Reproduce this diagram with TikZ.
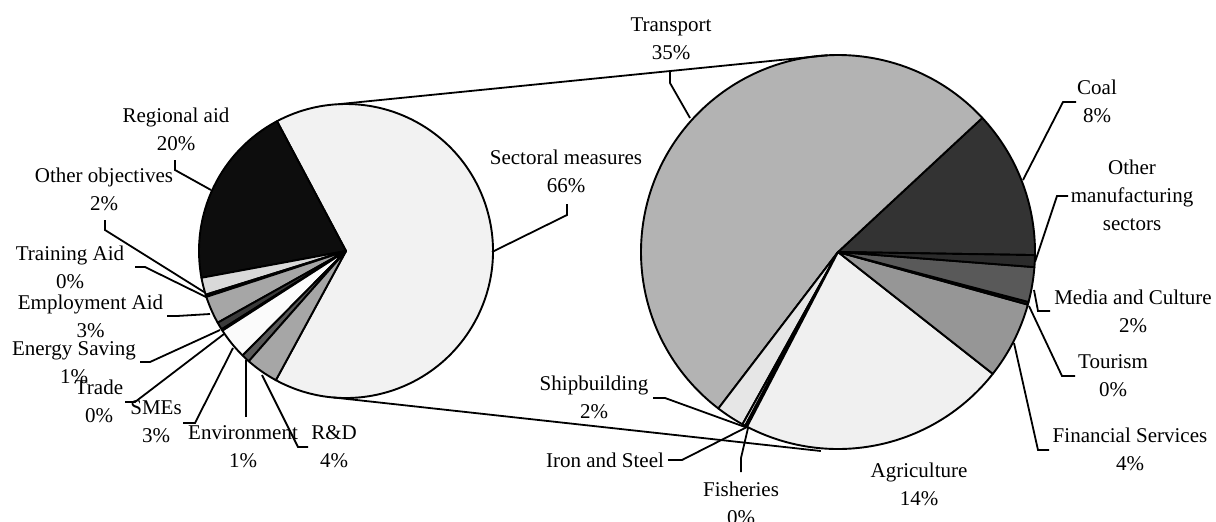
\documentclass[tikz,border=0pt]{standalone}
\usepackage{fontspec}
\setmainfont{Liberation Serif}
\usetikzlibrary{calc}
\tikzset{
  lbl/.style={font=\fontsize{21}{28}\selectfont, align=center, inner sep=0pt, text=black},
  slice/.style={draw=black, line width=1.9pt, line join=round},
  leader/.style={draw=black, line width=1.8pt, line join=miter},
}
\newcommand{\pieslice}[5]{%
  \filldraw[slice, fill=#5] (#1) -- ++(#3:#2) arc[start angle=#3, end angle=#4, radius=#2] -- cycle;}
\definecolor{cSect}{HTML}{F2F2F2}
\definecolor{cReg}{HTML}{0D0D0D}
\definecolor{cOther}{HTML}{D9D9D9}
\definecolor{cTrain}{HTML}{262626}
\definecolor{cEmpl}{HTML}{A6A6A6}
\definecolor{cEnergy}{HTML}{3A3A3A}
\definecolor{cTrade}{HTML}{1A1A1A}
\definecolor{cSME}{HTML}{FBFBFB}
\definecolor{cEnv}{HTML}{595959}
\definecolor{cRD}{HTML}{A6A6A6}
\definecolor{cCoal}{HTML}{333333}
\definecolor{cTrans}{HTML}{B3B3B3}
\definecolor{cShip}{HTML}{E6E6E6}
\definecolor{cIron}{HTML}{E6E6E6}
\definecolor{cFish}{HTML}{EDEDED}
\definecolor{cAgri}{HTML}{F0F0F0}
\definecolor{cFin}{HTML}{969696}
\definecolor{cTour}{HTML}{1A1A1A}
\definecolor{cMedia}{HTML}{595959}
\definecolor{cManuf}{HTML}{2B2B2B}
\begin{document}
\begin{tikzpicture}[x=1pt,y=1pt]
\useasboundingbox (0,0) rectangle (1216,-522);
\coordinate (L) at (346,-251);
\coordinate (R) at (838,-252);
% left pie
\pieslice{L}{147pt}{-118.5}{118}{cSect}
\pieslice{L}{147pt}{118}{190.5}{cReg}
\pieslice{L}{147pt}{190.5}{197.3}{cOther}
\pieslice{L}{147pt}{197.3}{198.2}{cTrain}
\pieslice{L}{147pt}{198.2}{209.2}{cEmpl}
\pieslice{L}{147pt}{209.2}{212.2}{cEnergy}
\pieslice{L}{147pt}{212.2}{212.8}{cTrade}
\pieslice{L}{147pt}{212.8}{225.3}{cSME}
\pieslice{L}{147pt}{225.3}{228.6}{cEnv}
\pieslice{L}{147pt}{228.6}{241.5}{cRD}
% right pie
\pieslice{R}{197pt}{-0.9}{42.9}{cCoal}
\pieslice{R}{197pt}{42.9}{232.6}{cTrans}
\pieslice{R}{197pt}{232.6}{241}{cShip}
\pieslice{R}{197pt}{241}{241.9}{cIron}
\pieslice{R}{197pt}{241.9}{242.5}{cFish}
\pieslice{R}{197pt}{242.5}{321.8}{cAgri}
\pieslice{R}{197pt}{321.8}{344.5}{cFin}
\pieslice{R}{197pt}{344.5}{345.3}{cTour}
\pieslice{R}{197pt}{345.3}{355.6}{cMedia}
\pieslice{R}{197pt}{355.6}{359.1}{cManuf}
% pie-of-pie connectors
\coordinate (Lt) at ($(L)+(93:147pt)$);
\coordinate (Rt) at ($(R)+(93:197pt)$);
\coordinate (Lb) at ($(L)+(265:147pt)$);
\coordinate (Rb) at (820.8,-451);
\draw[leader] (Lt) -- (Rt);
\draw[leader] (Lb) -- (Rb);
% labels
\node[lbl] (regional) at (176,-129) {Regional aid\\20\%};
\node[lbl] (otherobj) at (104,-189) {Other objectives\\2\%};
\node[lbl] (training) at (70,-267.5) {Training Aid\\0\%};
\node[lbl] (employment) at (90.5,-316) {Employment Aid\\3\%};
\node[lbl] (energy) at (74,-362.5) {Energy Saving\\1\%};
\node[lbl] (trade) at (99,-401) {Trade\\0\%};
\node[lbl] (smes) at (156,-422) {SMEs\\3\%};
\node[lbl] (environment) at (243,-447) {Environment\\1\%};
\node[lbl] (rd) at (334,-447) {R\&D\\4\%};
\node[lbl] (sectoral) at (566,-171.5) {Sectoral measures\\66\%};
\node[lbl] (transport) at (671,-38.5) {Transport\\35\%};
\node[lbl] (coal) at (1097,-101) {Coal\\8\%};
\node[lbl] (othermanuf) at (1132,-195) {Other\\manufacturing\\sectors};
\node[lbl] (media) at (1133,-311) {Media and Culture\\2\%};
\node[lbl] (tourism) at (1113,-375.5) {Tourism\\0\%};
\node[lbl] (financial) at (1130,-449.5) {Financial Services\\4\%};
\node[lbl] (agriculture) at (919,-484.5) {Agriculture\\14\%};
\node[lbl] (fisheries) at (741,-503.5) {Fisheries\\0\%};
\node[lbl] (iron) at (605,-460) {Iron and Steel};
\node[lbl] (shipbuilding) at (594,-397) {Shipbuilding\\2\%};
% leader end points
\coordinate (pReg) at (211,-190);
\coordinate (pOth) at (204,-292);
\coordinate (pTrain) at (206,-297);
\coordinate (pEmpl) at (210,-314);
\coordinate (pEnergy) at (220,-330);
\coordinate (pTrade) at (224,-334);
\coordinate (pSME) at (233,-348);
\coordinate (pEnv) at (246,-360);
\coordinate (pRD) at (262,-375);
\coordinate (pSect) at (492,-252);
\coordinate (pTrans) at (690,-118);
\coordinate (pCoal) at (1023,-180);
\coordinate (pManuf) at (1035,-262);
\coordinate (pMedia) at (1034,-290);
\coordinate (pTour) at (1029,-306);
\coordinate (pFin) at (1014,-343);
\coordinate (pFish) at (748,-428);
\coordinate (pIron) at (747,-427);
\coordinate (pShip) at (745,-427);
% leaders
\draw[leader] (175,-160) -- (175,-170) -- (pReg);
\draw[leader] (105,-220) -- (105,-230) -- (pOth);
\draw[leader] (135,-267) -- (145,-267) -- (pTrain);
\draw[leader] (167,-316) -- (177,-316) -- (pEmpl);
\draw[leader] (140,-362) -- (150,-362) -- (pEnergy);
\draw[leader] (125,-402) -- (135,-402) -- (pTrade);
\draw[leader] (183,-423) -- (195,-423) -- (pSME);
\draw[leader] (246,-417) -- (pEnv);
\draw[leader] (308,-447) -- (298,-447) -- (pRD);
\draw[leader] (567,-204) -- (567,-215) -- (pSect);
\draw[leader] (670,-70) -- (670,-83) -- (pTrans);
\draw[leader] (1076,-102) -- (1063,-102) -- (pCoal);
\draw[leader] (1068,-196) -- (1057,-196) -- (pManuf);
\draw[leader] (1050,-311) -- (1038,-311) -- (pMedia);
\draw[leader] (1075,-376) -- (1062,-376) -- (pTour);
\draw[leader] (1049,-450) -- (1038,-450) -- (pFin);
\draw[leader] (741,-472) -- (741,-458) -- (pFish);
\draw[leader] (668,-460) -- (682,-460) -- (pIron);
\draw[leader] (653,-398) -- (665,-398) -- (pShip);
\end{tikzpicture}
\end{document}
